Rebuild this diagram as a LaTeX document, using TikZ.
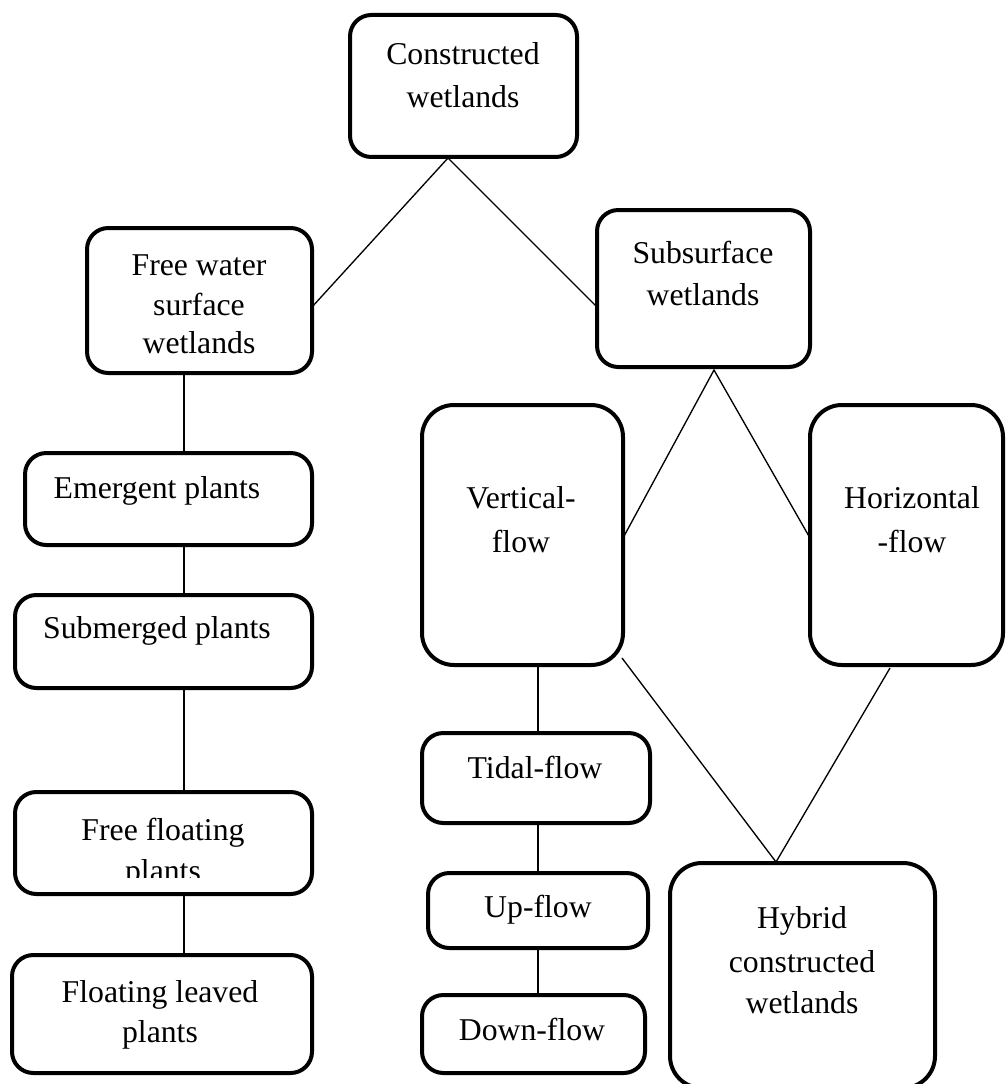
\documentclass[tikz,border=0pt]{standalone}
\usepackage{fontspec}
\setmainfont{Liberation Serif}
\usetikzlibrary{calc}
\begin{document}
\begin{tikzpicture}[x=0.375pt,y=-0.375pt,
  box/.style args={#1/#2}{draw=black, line width=1.5pt, rounded corners=8pt,
    minimum width=#1*0.375pt, minimum height=#2*0.375pt,
    inner sep=0pt, outer sep=0pt, fill=white},
  tallbox/.style={rounded corners=12pt},
  txt/.style={anchor=base, inner sep=0pt, font=\fontsize{11.9}{14}\selectfont},
  link/.style={line width=0.5pt, draw=black}]
\useasboundingbox (0,0) rectangle (1006,1084);

% boxes
\node[box=227/142] (cw) at (463.5,86) {};
\node[box=225/145] (fws) at (199.5,300.5) {};
\node[box=213/157] (ss) at (703.5,288.5) {};
\node[box=287/92] (em) at (168.5,499) {};
\node[box=297/93] (sub) at (163.5,641.5) {};
\node[box=297/102] (ff) at (163.5,843) {};
\node[box=300/118] (fl) at (162,1014) {};
\node[box=201/260, tallbox] (vf) at (522.5,535) {};
\node[box=193/260, tallbox] (hz) at (906.5,535) {};
\node[box=228/90] (tf) at (536,778) {};
\node[box=220/75] (uf) at (538,910.5) {};
\node[box=223/78] (df) at (533.5,1034) {};
\node[box=265/225, tallbox] (hy) at (802.5,975.5) {};

% texts
\node[txt] (t1a) at (463,65) {Constructed};
\node[txt] (t1b) at (463,107) {wetlands};
\node[txt] (t2a) at (199,275) {Free water};
\node[txt] (t2b) at (199,315) {surface};
\node[txt] (t2c) at (199,353) {wetlands};
\node[txt] (t3a) at (703,263) {Subsurface};
\node[txt] (t3b) at (703,305) {wetlands};
\node[txt] (t4) at (157,498) {Emergent plants};
\node[txt] (t5) at (157,638) {Submerged plants};
\node[txt] (t6a) at (163,840) {Free floating};
\begin{scope}
  \clip (15,792) rectangle (312,877);
  \node[txt] (t6b) at (163,881) {plants};
\end{scope}
\node[txt] (t7a) at (160,1002) {Floating leaved};
\node[txt] (t7b) at (160,1042) {plants};
\node[txt] (t8a) at (521,508) {Vertical-};
\node[txt] (t8b) at (521,552) {flow};
\node[txt] (t9a) at (912,508) {Horizontal};
\node[txt] (t9b) at (912,552) {-flow};
\node[txt] (t10) at (535,778) {Tidal-flow};
\node[txt] (t11) at (538,917) {Up-flow};
\node[txt] (t12) at (532,1040) {Down-flow};
\node[txt] (t13a) at (802,928) {Hybrid};
\node[txt] (t13b) at (802,972) {constructed};
\node[txt] (t13c) at (802,1013) {wetlands};

% connector points
\coordinate (colL) at (184,0);
\coordinate (colM) at (538,0);
\coordinate (cwA) at ($(cw.south)+(-15.5,1)$);
\coordinate (fwsR) at ($(fws.east)+(0,6.5)$);
\coordinate (ssL) at ($(ss.west)+(0,18.5)$);
\coordinate (ssA) at ($(ss.south)+(10.5,3)$);
\coordinate (vfR) at ($(vf.east)+(0,3)$);
\coordinate (hzL) at ($(hz.west)+(0,3)$);
\coordinate (vfC) at ($(vf.south east)+(-1,-7)$);
\coordinate (hzB) at ($(hz.south)+(-16.5,3)$);
\coordinate (hyA) at ($(hy.north)+(-26.5,-1)$);

% connectors
\draw[link] (fwsR) -- (cwA) -- (ssL);
\draw[link] (vfR) -- (ssA) -- (hzL);
\draw[link] (vfC) -- (hyA) -- (hzB);
\draw[link] (fws.south -| colL) -- (em.north -| colL);
\draw[link] (em.south -| colL) -- (sub.north -| colL);
\draw[link] (sub.south -| colL) -- (ff.north -| colL);
\draw[link] (ff.south -| colL) -- (fl.north -| colL);
\draw[link] (vf.south -| colM) -- (tf.north -| colM);
\draw[link] (tf.south -| colM) -- (uf.north -| colM);
\draw[link] (uf.south -| colM) -- (df.north -| colM);
\end{tikzpicture}
\end{document}
